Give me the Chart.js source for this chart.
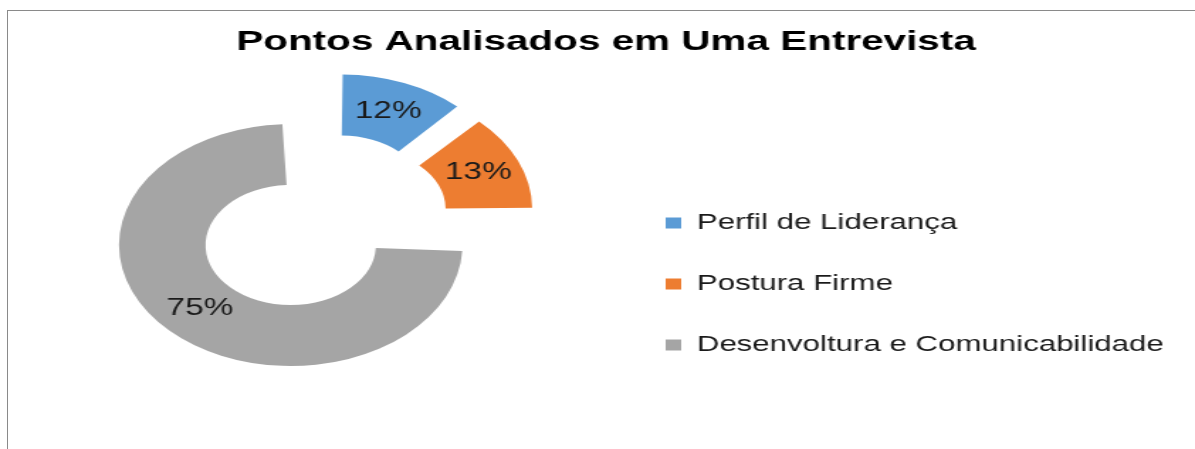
<!DOCTYPE html>
<html>
<head>
<meta charset="utf-8">
<script src="https://cdn.jsdelivr.net/npm/chart.js@4/dist/chart.umd.min.js"></script>
<style>
  html, body { margin: 0; padding: 0; background: #fff; overflow: hidden; }
  #frame {
    position: absolute; left: 7px; top: 10px; width: 1400px; height: 700px;
    border: 1px solid #8a8a8a;
  }
  #wrap {
    position: absolute; left: 0; top: 0; width: 842px; height: 449px;
    transform: scale(1.4192, 1); transform-origin: 0 0;
  }
</style>
</head>
<body>
<div id="frame"></div>
<div id="wrap"><canvas id="donut" width="842" height="449"></canvas></div>
<script>
const categories = ['Perfil de Liderança', 'Postura Firme', 'Desenvoltura e Comunicabilidade'];
const values = [12, 13, 75];
const sliceColors = ['#5B9BD5', '#ED7D31', '#A5A5A5'];
const sliceOffsets = [100, 100, 148];

const fontFamily = '"Liberation Sans", Arial, sans-serif';

// chart.js grows an offset arc's radius a bit; undo that so the explode is a pure shift
function radiusGrowth(arc) {
    const off = (arc.options.offset || 0) / 4;
    return off * (1 - Math.sin(Math.min(Math.PI, arc.circumference || 0)));
}

const plainExplode = {
    id: 'plainExplode',
    afterDatasetUpdate(chart, args) {
        args.meta.data.forEach(arc => {
            const g = radiusGrowth(arc);
            arc.outerRadius -= g;
            arc.innerRadius -= g;
        });
    }
};

// percentage labels sitting in the middle of each (exploded) slice
const pctLabels = {
    id: 'pctLabels',
    afterDatasetsDraw(chart) {
        const ctx = chart.ctx;
        const meta = chart.getDatasetMeta(0);
        const total = values.reduce((a, b) => a + b, 0);
        ctx.save();
        ctx.font = '23.5px ' + fontFamily;
        ctx.fillStyle = '#1a1a1a';
        ctx.textAlign = 'center';
        ctx.textBaseline = 'middle';
        meta.data.forEach((arc, i) => {
            const half = (arc.startAngle + arc.endAngle) / 2;
            const shift = (arc.options.offset || 0) / 4;
            const r = (arc.innerRadius + arc.outerRadius) / 2 + radiusGrowth(arc);
            const x = arc.x + Math.cos(half) * (shift + r);
            const y = arc.y + Math.sin(half) * (shift + r);
            ctx.fillText(Math.round(values[i] / total * 100) + '%', x, y);
        });
        ctx.restore();
    }
};

const ctx = document.getElementById('donut').getContext('2d');

new Chart(ctx, {
    type: 'doughnut',
    data: {
        labels: categories,
        datasets: [{
            data: values,
            backgroundColor: sliceColors,
            borderWidth: 0,
            offset: sliceOffsets
        }]
    },
    options: {
        responsive: false,
        animation: false,
        radius: 121,
        cutout: '49.6%',
        layout: {
            padding: { left: 32, right: 20, top: 0, bottom: 54 }
        },
        plugins: {
            title: {
                display: true,
                text: 'Pontos Analisados em Uma Entrevista',
                color: '#000',
                font: { family: fontFamily, size: 28.5, weight: 'bold', lineHeight: 0.01 },
                padding: { top: 42.4, bottom: 0 }
            },
            legend: {
                display: true,
                position: 'right',
                align: 'end',
                maxWidth: 392,
                labels: {
                    color: '#1a1a1a',
                    font: { family: fontFamily, size: 22 },
                    boxWidth: 11,
                    boxHeight: 11,
                    padding: 39
                }
            },
            tooltip: { enabled: false }
        }
    },
    plugins: [plainExplode, pctLabels]
});
</script>
</body>
</html>
